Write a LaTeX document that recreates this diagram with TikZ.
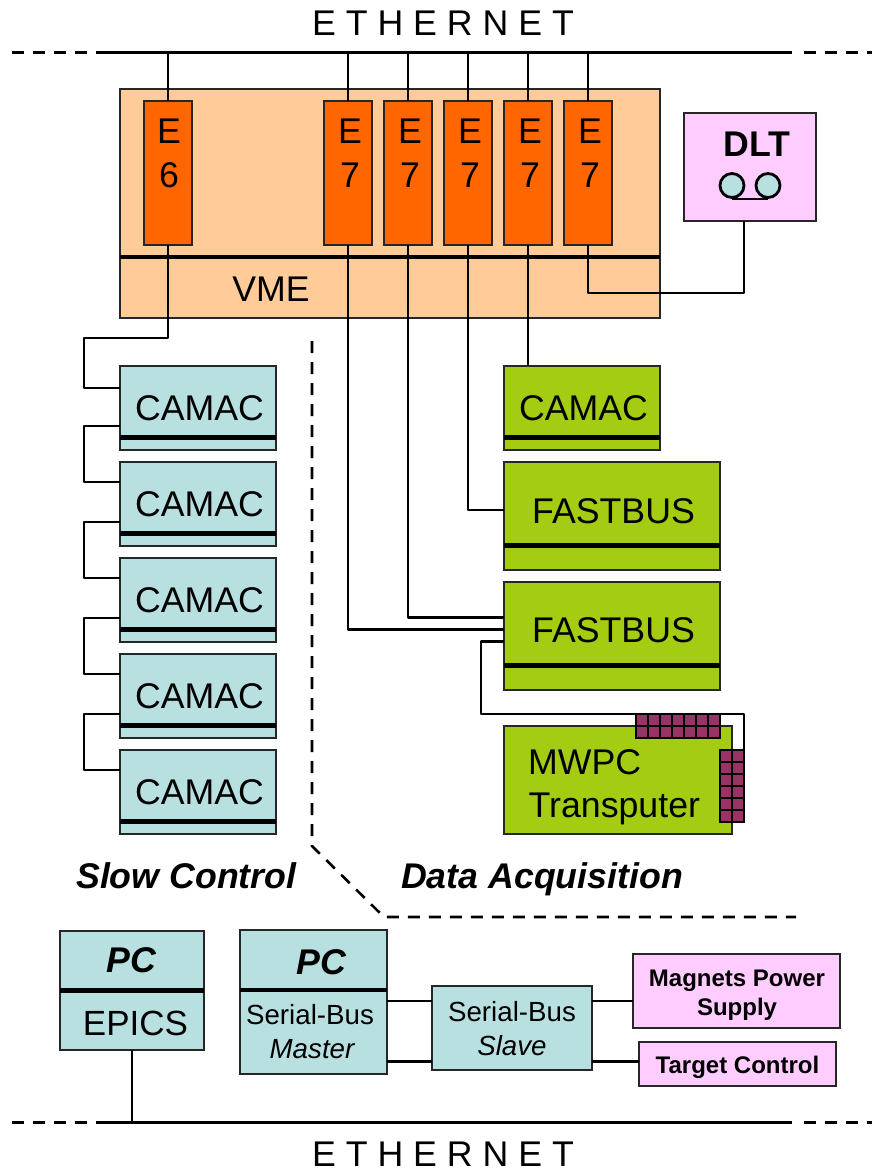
\documentclass[tikz,border=0pt]{standalone}
\usepackage{fontspec}
\setmainfont{Liberation Sans}
\definecolor{vmec}{HTML}{FFCC99}
\definecolor{ecard}{HTML}{FF6600}
\definecolor{pinkc}{HTML}{FFCCFF}
\definecolor{tealc}{HTML}{B8E0E0}
\definecolor{greenc}{HTML}{A3CC12}
\definecolor{gridc}{HTML}{993366}
\newcommand{\fpx}[1]{\fontsize{#1pt}{#1pt}\selectfont}
% \bx{name}{style}{x1}{y1}{x2}{y2}
\newcommand{\bx}[6]{\node[boxn,#2,minimum width={(#5-#3)*1pt},minimum height={(#6-#4)*1pt}] (#1) at ({(#3+#5)/2},{(#4+#6)/2}) {};}
\newcommand{\txt}[5][big]{\node[#1,#2] (#3) at (#4) {#5};}
\tikzset{
  boxn/.style={draw=black!85,line width=2pt,inner sep=0pt,outer sep=0pt},
  vmebox/.style={fill=vmec},
  ebox/.style={fill=ecard},
  pinkbox/.style={fill=pinkc},
  tealbox/.style={fill=tealc},
  greenbox/.style={fill=greenc},
  wire/.style={draw=black,line width=2.8pt,line join=round},
  busbar/.style={draw=black,line width=4.6pt},
  net/.style={draw=black,line width=3pt},
  netdash/.style={draw=black,line width=3pt,dash pattern=on 12pt off 9pt},
  sepline/.style={draw=black,line width=2.6pt,dash pattern=on 12pt off 9pt},
  big/.style={inner sep=0pt,anchor=base,font=\fpx{35.7}},
  mid/.style={inner sep=0pt,anchor=base,font=\fpx{27.7}},
  lab/.style={inner sep=0pt,anchor=base,font=\fpx{24}\bfseries},
  griddraw/.style={draw=black,line width=2.6pt,fill=gridc},
}
\begin{document}
\begin{tikzpicture}[x=1pt,y=-1pt]
\useasboundingbox (0,0) rectangle (872,1172);
% networks
\coordinate (tl) at (12,53); \coordinate (tsl) at (96,53); \coordinate (tsr) at (792,53); \coordinate (tsd) at (804,53); \coordinate (tr) at (872,53);
\coordinate (bl) at (12,1122); \coordinate (bsl) at (96,1122); \coordinate (bsr) at (792,1122); \coordinate (bsd) at (804,1122); \coordinate (br) at (872,1122);
\draw[netdash] (tl) -- (tsl); \draw[net] (tsl) -- (tsr); \draw[netdash] (tsd) -- (tr);
\draw[netdash] (bl) -- (bsl); \draw[net] (bsl) -- (bsr); \draw[netdash] (bsd) -- (br);
\txt{}{eth1}{443,36}{E T H E R N E T}
\txt{}{eth2}{443,1166}{E T H E R N E T}
% VME crate
\bx{vme}{vmebox}{120}{89}{660}{318}
\draw[busbar] (vme.west |- 0,257) -- (vme.east |- 0,257);
\txt{}{vmet}{271,301}{VME}
% cards
\bx{e6}{ebox}{144}{101}{192}{245}
\bx{ea}{ebox}{324}{101}{372}{245}
\bx{eb}{ebox}{384}{101}{432}{245}
\bx{ec}{ebox}{444}{101}{492}{245}
\bx{ed}{ebox}{504}{101}{552}{245}
\bx{ee}{ebox}{564}{101}{612}{245}
\foreach \n/\x/\d in {e6/169/6,ea/350/7,eb/410/7,ec/470/7,ed/530/7,ee/590/7}{
  \node[big] (\n E) at (\x,143) {E};
  \node[big] (\n N) at (\x,187) {\d};
}
% DLT
\bx{dlt}{pinkbox}{684}{113}{816}{221}
\coordinate (dltp) at (744,221);
\txt{font=\fpx{35.7}\bfseries}{dltt}{757,156}{DLT}
\node[draw=black,line width=2.8pt,fill=tealc,circle,minimum size=24pt,inner sep=0pt] (reela) at (732,185.5) {};
\node[draw=black,line width=2.8pt,fill=tealc,circle,minimum size=24pt,inner sep=0pt] (reelb) at (768,185.5) {};
\draw[wire] (reela.south) -- (reelb.south);
% crates: slow control
\foreach \n/\t in {c1/366,c2/462,c3/558,c4/654,c5/750}{
  \pgfmathsetmacro{\b}{\t+84}\pgfmathsetmacro{\bb}{\t+71.5}\pgfmathsetmacro{\tb}{\t+54}
  \bx{\n}{tealbox}{120}{\t}{276}{\b}
  \draw[busbar] (\n.west |- 0,\bb) -- (\n.east |- 0,\bb);
  \node[big] (\n t) at (199.5,\tb) {CAMAC};
}
% data acquisition
\bx{dc}{greenbox}{504}{366}{660}{450}
\draw[busbar] (dc.west |- 0,437.5) -- (dc.east |- 0,437.5);
\txt{}{dct}{583.5,420}{CAMAC}
\bx{fa}{greenbox}{504}{462}{720}{570}
\draw[busbar] (fa.west |- 0,545.5) -- (fa.east |- 0,545.5);
\txt{}{fat}{613.5,523}{FASTBUS}
\bx{fb}{greenbox}{504}{582}{720}{690}
\draw[busbar] (fb.west |- 0,665.5) -- (fb.east |- 0,665.5);
\txt{}{fbt}{613.5,642}{FASTBUS}
\bx{mw}{greenbox}{504}{726}{732}{834}
\txt{anchor=base west}{mwa}{528,774}{MWPC}
\txt{anchor=base west}{mwb}{528.5,817}{Transputer}
% connector grids
\coordinate (mwwa) at (481,714);
\coordinate (mwwb) at (744,714);
\coordinate (gridr) at (744,750);
\draw[griddraw] (720,750) rectangle (744,822);
\draw[griddraw] (636,714) rectangle (720,738);
\foreach \i in {1,...,6}{\draw[griddraw] (636+\i*12,714) -- (636+\i*12,738);}
\draw[griddraw] (636,726) -- (720,726);
\foreach \i in {1,...,5}{\draw[griddraw] (720,750+\i*12) -- (744,750+\i*12);}
\draw[griddraw] (732,750) -- (732,822);
% connectors
\draw[wire] (e6.north |- tl) -- (e6.north);
\foreach \n in {ea,eb,ec,ed,ee}{\draw[wire] (\n.north |- tl) -- (\n.north);}
\draw[wire] (e6.south) -- (e6.south |- 0,338) -| (84,388) -- (c1.west |- 0,388);
\draw[wire] (c1.west |- 0,426) -| (84,482) -- (c2.west |- 0,482);
\draw[wire] (c2.west |- 0,522) -| (84,578) -- (c3.west |- 0,578);
\draw[wire] (c3.west |- 0,618) -| (84,674) -- (c4.west |- 0,674);
\draw[wire] (c4.west |- 0,714) -| (84,770) -- (c5.west |- 0,770);
\draw[wire] (ed.south) -- (ed.south |- dc.north);
\draw[wire] (ec.south) |- (fa.west |- 0,510);
\draw[wire] (eb.south) |- (fb.west |- 0,617.5);
\draw[wire] (ea.south) |- (fb.west |- 0,629.5);
\draw[wire] (ee.south) |- (dltp |- 0,293) -- (dltp);
\draw[wire] (fb.west |- 0,641.5) -| (mwwa) -- (mwwb) -- (gridr);
% separator
\coordinate (sa) at (312,341); \coordinate (sb) at (312,846); \coordinate (sc) at (384,917); \coordinate (sd) at (796,917);
\draw[sepline] (sa) -- (sb) -- (sc) -- (sd);
\txt{font=\fpx{35.7}\bfseries\itshape,anchor=base west}{slow}{76,888}{Slow Control}
\txt{font=\fpx{35.7}\bfseries\itshape,anchor=base west}{daq}{401,888}{Data Acquisition}
% PCs
\bx{pca}{tealbox}{60}{931}{204}{1050}
\draw[busbar] (pca.west |- 0,990.5) -- (pca.east |- 0,990.5);
\txt{font=\fpx{35.7}\bfseries\itshape}{pcat}{131.5,972}{PC}
\txt{font=\fpx{35}}{epics}{135.5,1035}{EPICS}
\bx{pcb}{tealbox}{240}{930}{387}{1074}
\draw[busbar] (pcb.west |- 0,990) -- (pcb.east |- 0,990);
\txt{font=\fpx{35.7}\bfseries\itshape}{pcbt}{321.5,974}{PC}
\txt[mid]{}{sbm}{310,1024}{Serial-Bus}
\txt[mid]{font=\fpx{27.7}\itshape}{sbmb}{312,1058}{Master}
\bx{sl}{tealbox}{432}{986}{592}{1070}
\txt[mid]{}{sbs}{512,1021}{Serial-Bus}
\txt[mid]{font=\fpx{27.7}\itshape}{sbsb}{512,1055}{Slave}
\bx{mag}{pinkbox}{633}{954}{840}{1028}
\txt[lab]{}{maga}{737,986}{Magnets Power}
\txt[lab]{}{magb}{737,1015}{Supply}
\bx{tgt}{pinkbox}{639}{1042}{836}{1086}
\txt[lab]{}{tgtt}{737.5,1073}{Target Control}
\draw[wire] (pca.south) -- (pca.south |- bl);
\draw[wire] (pcb.east |- 0,1001) -- (sl.west |- 0,1001);
\draw[wire] (pcb.east |- 0,1061.5) -- (sl.west |- 0,1061.5);
\draw[wire] (sl.east |- 0,1001) -- (mag.west |- 0,1001);
\draw[wire] (sl.east |- 0,1061.5) -- (tgt.west |- 0,1061.5);
\end{tikzpicture}
\end{document}
